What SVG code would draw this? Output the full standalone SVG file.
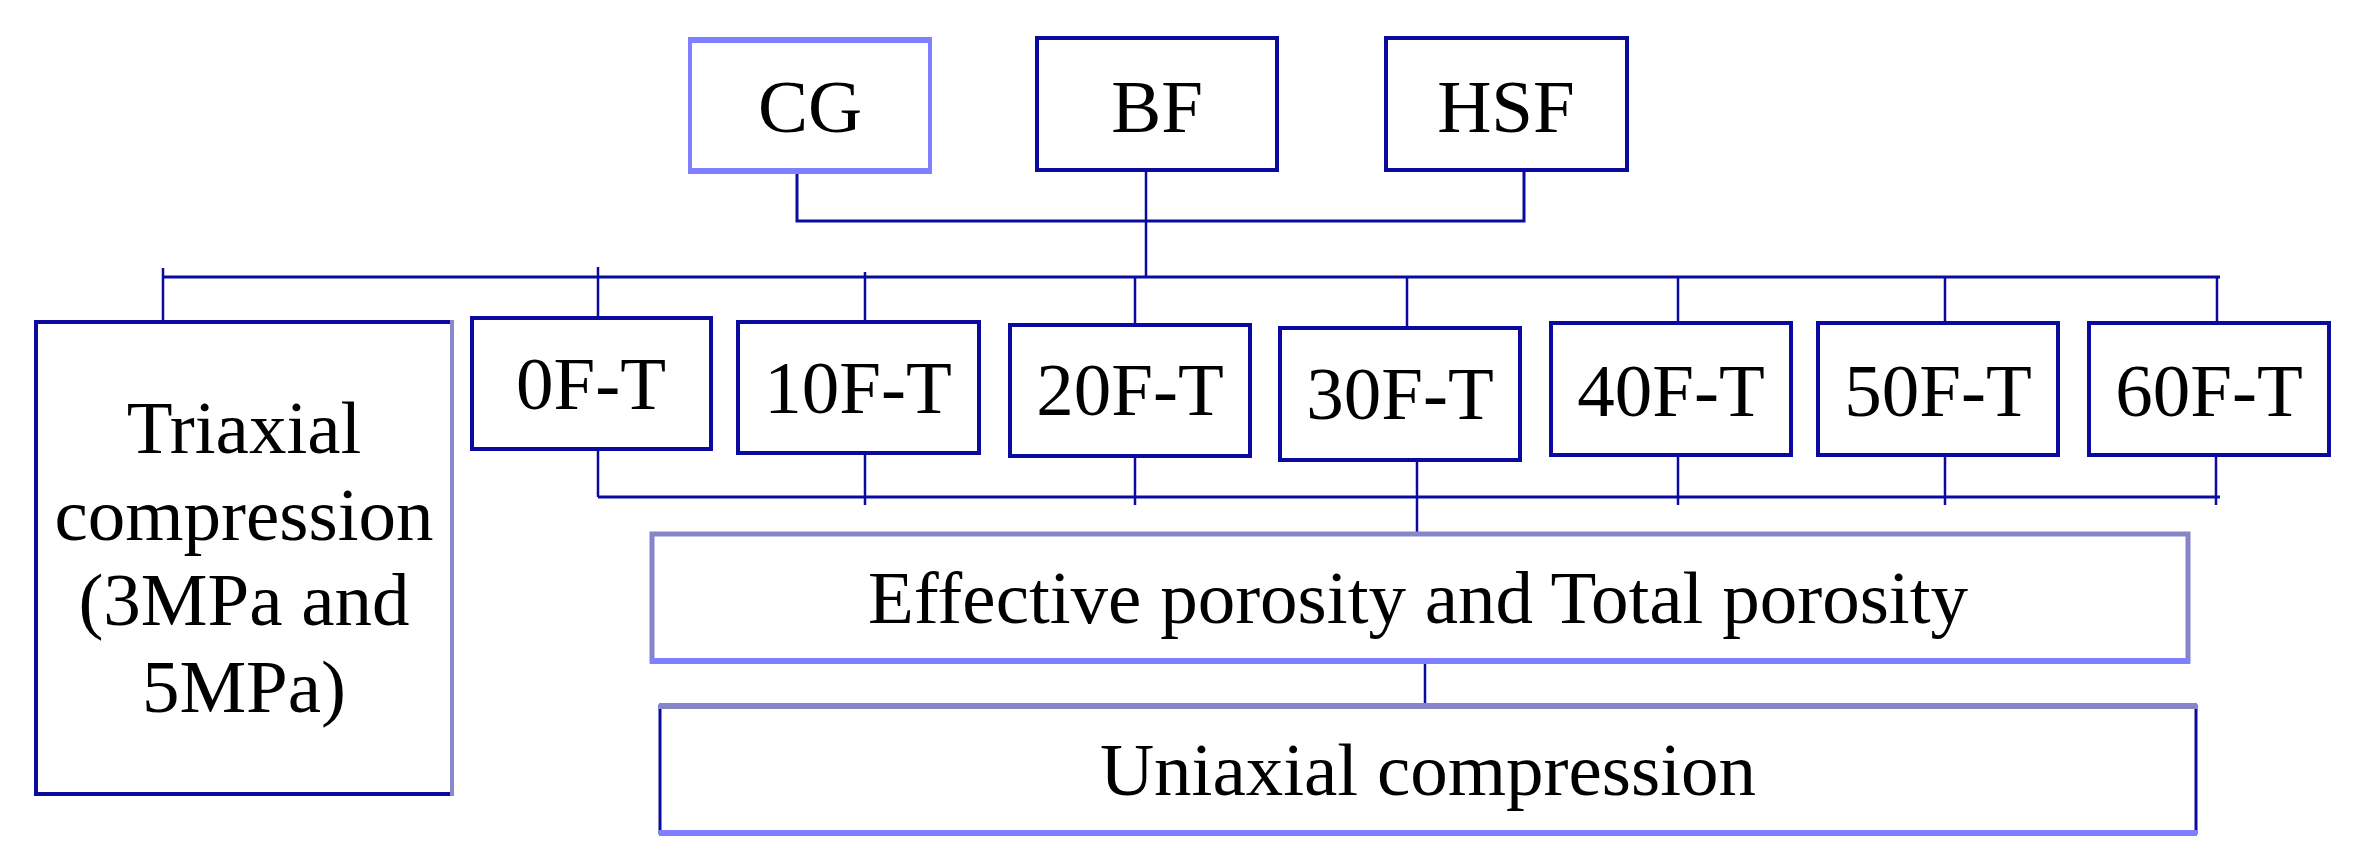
<svg xmlns="http://www.w3.org/2000/svg" width="2363" height="865" viewBox="0 0 2363 865">
<style>
.t{font-family:"Liberation Serif","Times New Roman",serif;font-size:75px;fill:#000;text-anchor:middle}
.bx{fill:#fff;stroke:#0a0aa0;stroke-width:4}
.ln{stroke:#0a0aa0;stroke-width:3;fill:none}
.dr{stroke:#0a0aa0;stroke-width:2.5;fill:none}
</style>
<rect width="2363" height="865" fill="#fff"/>
<g id="connectors">
<polyline class="ln" points="797,173 797,221 1524,221 1524,170"/>
<line class="dr" x1="1146" y1="170" x2="1146" y2="277"/>
<line class="ln" x1="163" y1="277" x2="2220" y2="277"/>
<line class="dr" x1="163" y1="268" x2="163" y2="322"/>
<line class="dr" x1="598" y1="267" x2="598" y2="317"/>
<line class="dr" x1="865" y1="272" x2="865" y2="322"/>
<line class="dr" x1="1135" y1="277" x2="1135" y2="325"/>
<line class="dr" x1="1407" y1="277" x2="1407" y2="328"/>
<line class="dr" x1="1678" y1="277" x2="1678" y2="323"/>
<line class="dr" x1="1945" y1="277" x2="1945" y2="323"/>
<line class="dr" x1="2217" y1="277" x2="2217" y2="323"/>
<line class="ln" x1="598" y1="497" x2="2220" y2="497"/>
<line class="dr" x1="598" y1="449" x2="598" y2="497"/>
<line class="dr" x1="865" y1="453" x2="865" y2="505"/>
<line class="dr" x1="1135" y1="456" x2="1135" y2="505"/>
<line class="dr" x1="1417" y1="460" x2="1417" y2="534"/>
<line class="dr" x1="1678" y1="455" x2="1678" y2="505"/>
<line class="dr" x1="1945" y1="455" x2="1945" y2="505"/>
<line class="dr" x1="2216" y1="455" x2="2216" y2="505"/>
<line class="dr" x1="1425" y1="661" x2="1425" y2="706"/>
</g>
<g id="n-cg">
<rect x="690" y="40" width="240" height="132" fill="#fff" stroke="#7f7fff" stroke-width="4"/>
<line x1="688" y1="40" x2="932" y2="40" stroke="#7f7fff" stroke-width="6"/>
<line x1="688" y1="171" x2="932" y2="171" stroke="#7f7fff" stroke-width="6"/>
<text class="t" x="810" y="132">CG</text>
</g>
<g id="n-bf">
<rect class="bx" x="1037" y="38" width="240" height="132"/>
<text class="t" x="1157" y="132">BF</text>
</g>
<g id="n-hsf">
<rect class="bx" x="1386" y="38" width="241" height="132"/>
<text class="t" x="1506" y="132">HSF</text>
</g>
<g id="n-tri">
<rect class="bx" x="36" y="322" width="416" height="472"/>
<line x1="452" y1="320" x2="452" y2="796" stroke="#8888cc" stroke-width="4"/>
<text class="t" x="244" y="453">Triaxial</text>
<text class="t" x="244" y="540">compression</text>
<text class="t" x="244" y="625">(3MPa and</text>
<text class="t" x="244" y="712">5MPa)</text>
</g>
<g id="n-0f">
<rect class="bx" x="472" y="318" width="239" height="131"/>
<text class="t" x="591" y="409">0F-T</text>
</g>
<g id="n-10f">
<rect class="bx" x="738" y="322" width="241" height="131"/>
<text class="t" x="858" y="413">10F-T</text>
</g>
<g id="n-20f">
<rect class="bx" x="1010" y="325" width="240" height="131"/>
<text class="t" x="1130" y="415">20F-T</text>
</g>
<g id="n-30f">
<rect class="bx" x="1280" y="328" width="240" height="132"/>
<text class="t" x="1400" y="419">30F-T</text>
</g>
<g id="n-40f">
<rect class="bx" x="1551" y="323" width="240" height="132"/>
<text class="t" x="1671" y="416">40F-T</text>
</g>
<g id="n-50f">
<rect class="bx" x="1818" y="323" width="240" height="132"/>
<text class="t" x="1938" y="416">50F-T</text>
</g>
<g id="n-60f">
<rect class="bx" x="2089" y="323" width="240" height="132"/>
<text class="t" x="2209" y="416">60F-T</text>
</g>
<g id="n-eff">
<rect x="652" y="534" width="1536" height="127" fill="#fff" stroke="#8585c8" stroke-width="5"/>
<line x1="650" y1="661" x2="2190" y2="661" stroke="#7f7fff" stroke-width="6"/>
<text class="t" x="1418" y="623">Effective porosity and Total porosity</text>
</g>
<g id="n-uni">
<rect x="660" y="706" width="1536" height="127" fill="#fff" stroke="#0a0aa0" stroke-width="3"/>
<line x1="659" y1="706" x2="2197" y2="706" stroke="#8585c8" stroke-width="6"/>
<line x1="659" y1="833" x2="2197" y2="833" stroke="#7f7fff" stroke-width="6"/>
<text class="t" x="1428" y="795">Uniaxial compression</text>
</g>
</svg>
